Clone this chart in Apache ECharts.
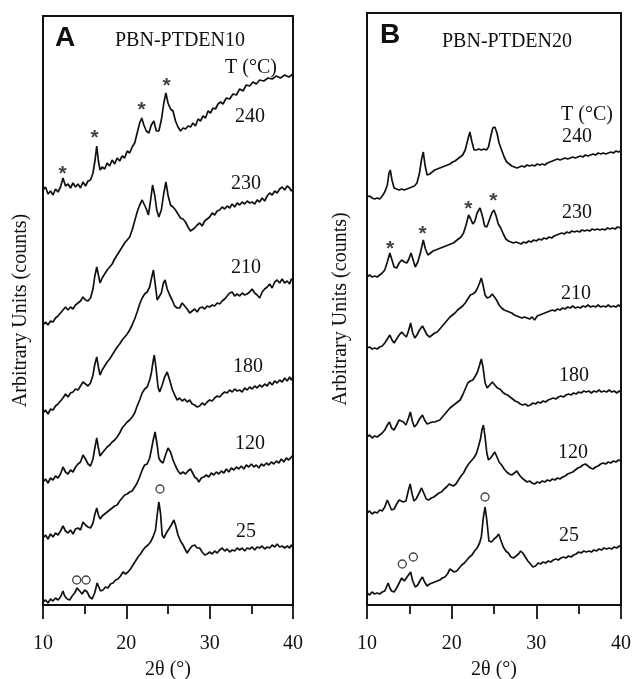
<!DOCTYPE html>
<html>
<head>
<meta charset="utf-8">
<script src="https://cdn.jsdelivr.net/npm/echarts@6/dist/echarts.min.js"></script>
<style>
html,body{margin:0;padding:0;background:#fff;}
#chart{width:634px;height:679px;}
</style>
</head>
<body>
<div id="chart"></div>
<script>
// ---------- Data (2θ in degrees, intensity in arbitrary offset units) ----------
const temperaturesA = ['25', '120', '180', '210', '230', '240'];
const temperaturesB = ['25', '120', '180', '210', '230', '240'];
const xTicks = [10, 20, 30, 40];

const A25 = [[10,3],[10.3,5],[10.6,2],[10.9,6],[11.2,4],[11.5,7],[11.8,5],[12.1,8],[12.4,14],[12.6,9],[12.9,6],[13.2,5],[13.5,9],[13.8,12],[14.1,17],[14.4,14],[14.7,11],[15.0,15],[15.3,13],[15.6,8],[15.9,6],[16.2,12],[16.5,22],[16.7,20],[16.9,14],[17.2,15],[17.5,18],[17.8,17],[18.1,21],[18.4,22],[18.7,25],[19.0,26],[19.3,29],[19.6,33],[19.9,31],[20.2,33],[20.5,36],[20.8,40],[21.1,44],[21.4,48],[21.7,51],[22.0,55],[22.3,58],[22.6,60],[22.9,63],[23.2,68],[23.5,75],[23.7,90],[23.9,103],[24.1,92],[24.3,70],[24.5,67],[24.8,72],[25.1,76],[25.4,80],[25.7,85],[25.9,80],[26.2,70],[26.5,64],[26.8,60],[27.1,55],[27.3,52],[27.6,56],[27.9,59],[28.2,60],[28.5,57],[28.8,57],[29.1,53],[29.4,50],[29.7,51],[30.0,53],[30.3,51],[30.6,54],[30.9,52],[31.2,55],[31.5,57],[31.8,54],[32.1,56],[32.4,53],[32.7,55],[33.0,54],[33.3,57],[33.6,55],[33.9,57],[34.2,54],[34.5,57],[34.8,56],[35.1,58],[35.4,55],[35.7,58],[36.0,57],[36.3,59],[36.6,56],[36.9,58],[37.2,57],[37.5,60],[37.8,58],[38.1,61],[38.4,58],[38.7,59],[39.0,57],[39.3,59],[39.6,57],[39.8,60],[40,58]];
const A120 = [[10,67],[10.3,70],[10.6,66],[10.9,71],[11.2,68],[11.5,72],[11.8,70],[12.1,74],[12.4,79],[12.7,74],[13.0,72],[13.3,75],[13.6,71],[13.9,76],[14.2,77],[14.5,75],[14.8,83],[15.1,80],[15.4,78],[15.7,77],[16.0,82],[16.2,90],[16.45,97],[16.65,90],[16.85,86],[17.1,89],[17.4,91],[17.7,93],[18.0,95],[18.3,97],[18.6,99],[18.9,100],[19.2,104],[19.5,107],[19.8,110],[20.1,111],[20.4,113],[20.7,114],[21.0,118],[21.3,122],[21.6,128],[21.9,135],[22.2,140],[22.5,141],[22.8,147],[23.0,155],[23.2,164],[23.45,173],[23.7,160],[23.9,147],[24.1,144],[24.4,142],[24.7,150],[25.0,157],[25.3,153],[25.6,145],[25.9,139],[26.2,134],[26.5,131],[26.8,133],[27.1,131],[27.4,134],[27.7,136],[27.9,133],[28.2,128],[28.5,126],[28.7,123],[29.0,127],[29.3,128],[29.6,130],[29.9,128],[30.2,132],[30.5,130],[30.8,133],[31.1,131],[31.4,134],[31.7,132],[32.0,136],[32.3,133],[32.6,137],[32.9,135],[33.2,138],[33.5,136],[33.8,139],[34.1,136],[34.4,140],[34.7,138],[35.0,141],[35.3,138],[35.6,140],[35.9,137],[36.2,141],[36.5,139],[36.8,142],[37.1,140],[37.4,143],[37.7,141],[38.0,144],[38.3,142],[38.6,146],[38.9,143],[39.2,147],[39.5,145],[39.8,148],[40,150]];
const A180 = [[10,123],[10.3,126],[10.6,122],[10.9,127],[11.2,125],[11.5,129],[11.8,127],[12.1,131],[12.4,138],[12.7,133],[13.0,131],[13.3,135],[13.6,133],[13.9,138],[14.2,141],[14.5,143],[14.8,150],[15.1,146],[15.4,141],[15.7,139],[16.0,146],[16.2,156],[16.45,167],[16.65,157],[16.85,149],[17.1,152],[17.4,155],[17.7,158],[18.0,160],[18.3,163],[18.6,165],[18.9,168],[19.2,172],[19.5,177],[19.8,180],[20.1,183],[20.4,185],[20.7,188],[21.0,192],[21.3,199],[21.6,205],[21.9,212],[22.2,216],[22.5,218],[22.8,225],[23.0,232],[23.2,243],[23.35,250],[23.55,238],[23.8,218],[24.0,213],[24.3,220],[24.6,228],[24.9,233],[25.2,225],[25.5,216],[25.8,210],[26.1,205],[26.4,207],[26.7,204],[27.0,206],[27.3,203],[27.6,205],[27.9,201],[28.2,200],[28.5,198],[28.8,199],[29.1,202],[29.4,200],[29.7,203],[30.0,205],[30.3,204],[30.6,207],[30.9,209],[31.2,208],[31.5,211],[31.8,213],[32.1,212],[32.4,215],[32.7,213],[33.0,216],[33.3,214],[33.6,215],[33.9,213],[34.2,217],[34.5,215],[34.8,218],[35.1,216],[35.4,219],[35.7,217],[36.0,220],[36.3,218],[36.6,221],[36.9,219],[37.2,223],[37.5,220],[37.8,224],[38.1,222],[38.4,225],[38.7,223],[39.0,227],[39.3,224],[39.6,228],[39.8,225],[40,228]];
const A210 = [[10,192],[10.3,195],[10.6,191],[10.9,196],[11.2,195],[11.5,199],[11.8,201],[12.1,204],[12.4,207],[12.7,211],[13.0,208],[13.3,212],[13.6,213],[13.9,216],[14.2,215],[14.5,219],[14.8,223],[15.1,221],[15.4,219],[15.7,222],[16.0,230],[16.2,240],[16.45,248],[16.65,238],[16.85,230],[17.1,235],[17.4,239],[17.7,243],[18.0,246],[18.3,250],[18.6,254],[18.9,258],[19.2,261],[19.5,265],[19.8,268],[20.1,271],[20.4,275],[20.7,280],[21.0,286],[21.3,293],[21.6,301],[21.9,307],[22.2,311],[22.5,313],[22.8,318],[23.0,326],[23.25,335],[23.45,322],[23.7,305],[23.9,303],[24.2,312],[24.45,322],[24.65,325],[24.9,316],[25.2,310],[25.5,305],[25.8,299],[26.1,297],[26.4,297],[26.7,302],[27.0,299],[27.3,296],[27.6,292],[27.9,294],[28.2,296],[28.5,293],[28.8,297],[29.1,298],[29.4,296],[29.7,299],[30.0,298],[30.3,300],[30.6,299],[30.9,302],[31.2,301],[31.5,304],[31.8,306],[32.1,309],[32.4,312],[32.7,313],[33.0,309],[33.3,311],[33.6,309],[33.9,312],[34.2,310],[34.5,311],[34.8,313],[35.1,316],[35.4,312],[35.7,310],[36.0,307],[36.3,313],[36.6,316],[36.9,318],[37.2,321],[37.5,317],[37.8,323],[38.1,325],[38.4,322],[38.7,326],[39.0,322],[39.3,324],[39.6,321],[39.8,326],[40,325]];
const A230 = [[10,280],[10.3,283],[10.6,280],[10.9,284],[11.2,283],[11.5,287],[11.8,289],[12.1,292],[12.4,295],[12.7,298],[13.0,295],[13.3,298],[13.6,296],[13.9,300],[14.2,302],[14.5,304],[14.8,308],[15.1,305],[15.4,304],[15.7,307],[16.0,316],[16.2,328],[16.45,338],[16.65,330],[16.85,322],[17.1,327],[17.4,331],[17.7,335],[18.0,338],[18.3,341],[18.6,346],[18.9,350],[19.2,354],[19.5,358],[19.8,362],[20.1,365],[20.4,368],[20.7,375],[21.0,384],[21.3,393],[21.6,400],[21.9,405],[22.1,404],[22.4,396],[22.65,390],[22.9,404],[23.15,420],[23.4,410],[23.65,395],[23.9,388],[24.2,395],[24.5,412],[24.75,423],[25.0,410],[25.3,400],[25.6,398],[25.9,395],[26.2,391],[26.5,387],[26.8,386],[27.1,383],[27.4,378],[27.7,374],[27.9,373],[28.2,377],[28.5,380],[28.8,382],[29.1,379],[29.4,384],[29.7,386],[30.0,388],[30.3,392],[30.6,390],[30.9,394],[31.2,395],[31.5,398],[31.8,396],[32.1,399],[32.4,397],[32.7,401],[33.0,398],[33.3,402],[33.6,400],[33.9,403],[34.2,401],[34.5,404],[34.8,402],[35.1,403],[35.4,401],[35.7,405],[36.0,403],[36.3,407],[36.6,404],[36.9,409],[37.2,412],[37.5,410],[37.8,414],[38.1,412],[38.4,416],[38.7,418],[39.0,415],[39.3,419],[39.6,417],[39.8,414],[40,416]];
const A240 = [[10,415],[10.3,418],[10.6,411],[10.9,414],[11.2,410],[11.5,416],[11.8,413],[12.1,418],[12.4,427],[12.7,419],[13.0,421],[13.3,417],[13.6,422],[13.9,418],[14.2,421],[14.5,417],[14.8,423],[15.1,419],[15.4,424],[15.7,425],[16.0,432],[16.25,445],[16.45,459],[16.65,444],[16.85,435],[17.1,438],[17.4,436],[17.7,442],[18.0,439],[18.3,445],[18.6,441],[18.9,447],[19.2,444],[19.5,449],[19.8,447],[20.1,454],[20.4,452],[20.7,458],[21.0,462],[21.3,472],[21.6,482],[21.85,487],[22.1,480],[22.4,474],[22.7,472],[23.0,480],[23.3,484],[23.6,474],[23.9,474],[24.2,485],[24.5,502],[24.75,512],[25.0,502],[25.3,496],[25.6,494],[25.9,484],[26.2,478],[26.5,474],[26.8,477],[27.1,476],[27.4,479],[27.7,478],[28.0,482],[28.3,479],[28.6,486],[28.9,484],[29.2,489],[29.5,487],[29.8,494],[30.1,492],[30.4,497],[30.7,496],[31.0,501],[31.3,503],[31.6,501],[32.0,507],[32.4,506],[32.8,511],[33.2,510],[33.6,516],[34.0,514],[34.4,520],[34.8,519],[35.2,523],[35.6,521],[36.0,525],[36.5,524],[37.0,527],[37.5,526],[38.0,529],[38.5,527],[39.0,530],[39.5,528],[40,531]];

const B25 = [[10,12],[10.3,10],[10.6,13],[10.9,11],[11.2,12],[11.5,11],[11.8,13],[12.1,14],[12.3,18],[12.5,22],[12.7,17],[12.9,14],[13.2,13],[13.5,17],[13.8,22],[14.1,27],[14.4,24],[14.6,25],[14.9,30],[15.15,33],[15.4,24],[15.7,18],[16.0,20],[16.3,25],[16.55,28],[16.8,23],[17.1,19],[17.4,21],[17.7,22],[18.0,23],[18.3,24],[18.6,25],[18.9,27],[19.2,28],[19.5,31],[19.8,36],[20.0,38],[20.3,33],[20.6,34],[20.9,37],[21.2,40],[21.5,42],[21.8,45],[22.1,48],[22.4,50],[22.7,54],[23.0,57],[23.3,62],[23.5,68],[23.75,88],[23.95,98],[24.15,85],[24.4,64],[24.7,63],[25.0,66],[25.3,68],[25.55,71],[25.8,65],[26.1,58],[26.4,54],[26.7,52],[27.0,48],[27.3,47],[27.6,49],[27.9,51],[28.15,54],[28.4,52],[28.7,48],[29.0,44],[29.3,41],[29.6,38],[29.9,39],[30.2,42],[30.5,41],[30.8,43],[31.1,42],[31.4,44],[31.7,43],[32.0,45],[32.3,46],[32.6,45],[32.9,47],[33.2,48],[33.5,47],[33.8,49],[34.1,48],[34.4,50],[34.7,51],[35.0,53],[35.3,52],[35.6,54],[35.9,53],[36.2,54],[36.5,53],[36.8,55],[37.1,54],[37.4,56],[37.7,55],[38.0,57],[38.3,56],[38.6,57],[38.9,56],[39.2,58],[39.5,57],[39.8,59],[40,58]];
const B120 = [[10,92],[10.3,94],[10.6,91],[10.9,93],[11.2,92],[11.5,95],[11.8,94],[12.1,98],[12.4,105],[12.6,101],[12.9,95],[13.2,96],[13.5,101],[13.8,105],[14.0,107],[14.3,103],[14.6,104],[14.9,115],[15.1,121],[15.3,112],[15.55,104],[15.8,106],[16.1,111],[16.45,117],[16.7,112],[17.0,106],[17.3,105],[17.6,107],[17.9,108],[18.2,110],[18.5,112],[18.8,113],[19.1,116],[19.4,118],[19.7,121],[19.9,123],[20.2,119],[20.5,121],[20.8,125],[21.1,129],[21.4,132],[21.7,137],[22.0,141],[22.3,144],[22.6,147],[22.9,151],[23.15,158],[23.4,166],[23.6,176],[23.75,180],[23.95,168],[24.15,152],[24.35,145],[24.6,147],[24.85,150],[25.1,153],[25.35,148],[25.6,143],[25.9,140],[26.2,136],[26.5,133],[26.8,131],[27.1,130],[27.4,132],[27.7,134],[28.0,130],[28.3,127],[28.6,125],[28.9,123],[29.2,124],[29.5,122],[29.8,121],[30.1,123],[30.4,122],[30.7,124],[31.0,123],[31.3,125],[31.6,124],[31.9,126],[32.2,125],[32.5,127],[32.8,126],[33.1,128],[33.4,129],[33.7,131],[34.0,132],[34.3,133],[34.6,135],[34.9,137],[35.2,138],[35.5,140],[35.8,141],[36.1,139],[36.4,137],[36.7,136],[37.0,138],[37.3,139],[37.6,141],[37.9,142],[38.2,141],[38.5,143],[38.8,142],[39.1,144],[39.4,143],[39.7,145],[40,144]];
const B180 = [[10,168],[10.3,170],[10.6,167],[10.9,169],[11.2,168],[11.5,170],[11.8,172],[12.1,175],[12.4,180],[12.65,183],[12.9,177],[13.2,175],[13.5,180],[13.8,185],[14.0,187],[14.3,183],[14.6,180],[14.9,187],[15.12,193],[15.35,184],[15.6,178],[15.9,181],[16.2,186],[16.55,190],[16.8,185],[17.1,181],[17.4,182],[17.7,183],[18.0,183],[18.3,184],[18.6,185],[18.9,188],[19.2,191],[19.5,194],[19.8,197],[20.1,199],[20.4,201],[20.7,203],[21.0,205],[21.3,210],[21.6,216],[21.9,222],[22.2,224],[22.5,225],[22.8,229],[23.05,233],[23.3,240],[23.5,246],[23.7,238],[23.95,222],[24.2,217],[24.5,220],[24.8,223],[25.1,220],[25.4,217],[25.7,216],[26.0,213],[26.3,211],[26.6,210],[26.9,208],[27.2,206],[27.5,204],[27.8,203],[28.1,201],[28.4,200],[28.7,201],[29.0,199],[29.3,200],[29.6,202],[29.9,201],[30.2,203],[30.5,202],[30.8,204],[31.1,203],[31.4,205],[31.7,206],[32.0,207],[32.3,206],[32.6,208],[32.9,209],[33.2,208],[33.5,210],[33.8,211],[34.1,210],[34.4,212],[34.7,211],[35.0,213],[35.3,212],[35.6,214],[35.9,213],[36.2,214],[36.5,212],[36.8,214],[37.1,213],[37.4,215],[37.7,213],[38.0,214],[38.3,213],[38.6,215],[38.9,213],[39.2,214],[39.5,212],[39.8,214],[40,213]];
const B210 = [[10,257],[10.3,258],[10.6,256],[10.9,257],[11.2,256],[11.5,258],[11.8,259],[12.1,262],[12.4,266],[12.7,270],[12.95,265],[13.2,262],[13.5,266],[13.8,270],[14.1,273],[14.4,270],[14.65,268],[14.9,274],[15.15,282],[15.4,272],[15.65,267],[15.9,270],[16.2,275],[16.55,279],[16.8,275],[17.1,270],[17.4,268],[17.7,270],[18.0,272],[18.3,273],[18.6,276],[18.9,279],[19.2,282],[19.5,285],[19.8,288],[20.1,290],[20.4,292],[20.7,295],[21.0,297],[21.3,299],[21.6,302],[21.9,306],[22.2,310],[22.5,311],[22.8,313],[23.0,316],[23.25,321],[23.5,327],[23.7,320],[23.95,310],[24.2,307],[24.5,308],[24.8,311],[25.0,310],[25.3,305],[25.6,300],[25.9,297],[26.2,295],[26.5,294],[26.8,293],[27.1,292],[27.4,290],[27.7,289],[28.0,288],[28.3,287],[28.6,288],[28.9,287],[29.2,286],[29.5,288],[29.8,285],[30.1,289],[30.4,290],[30.7,291],[31.0,292],[31.3,293],[31.6,294],[31.9,295],[32.2,294],[32.5,296],[32.8,295],[33.1,297],[33.4,296],[33.7,298],[34.0,297],[34.3,299],[34.6,297],[34.9,298],[35.2,297],[35.5,299],[35.8,298],[36.1,300],[36.4,298],[36.7,299],[37.0,298],[37.3,300],[37.6,298],[37.9,299],[38.2,298],[38.5,300],[38.8,298],[39.1,299],[39.4,298],[39.7,300],[40,298]];
const B230 = [[10,328],[10.3,330],[10.6,328],[10.9,329],[11.2,328],[11.5,330],[11.8,332],[12.1,335],[12.4,343],[12.7,352],[12.95,345],[13.2,338],[13.5,337],[13.8,342],[14.1,345],[14.4,343],[14.7,342],[14.95,346],[15.2,352],[15.45,345],[15.7,338],[16.0,343],[16.3,352],[16.65,365],[16.9,356],[17.2,350],[17.5,352],[17.8,354],[18.1,355],[18.4,356],[18.7,357],[19.0,358],[19.3,359],[19.6,360],[19.9,361],[20.2,362],[20.5,364],[20.8,366],[21.1,368],[21.4,372],[21.7,380],[22.0,390],[22.25,386],[22.5,381],[22.75,384],[23.0,392],[23.35,397],[23.6,390],[23.9,379],[24.15,378],[24.45,385],[24.75,392],[25.0,395],[25.25,389],[25.5,381],[25.8,377],[26.1,371],[26.4,366],[26.7,364],[27.0,363],[27.3,362],[27.6,363],[27.9,362],[28.2,361],[28.5,363],[28.8,362],[29.1,364],[29.4,363],[29.7,365],[30.0,364],[30.3,366],[30.6,365],[30.9,367],[31.2,366],[31.5,368],[31.8,367],[32.1,369],[32.4,370],[32.7,371],[33.0,372],[33.3,371],[33.6,373],[33.9,372],[34.2,374],[34.5,373],[34.8,374],[35.1,373],[35.4,375],[35.7,374],[36.0,375],[36.3,374],[36.6,376],[36.9,375],[37.2,376],[37.5,375],[37.8,376],[38.1,375],[38.4,377],[38.7,376],[39.0,377],[39.3,376],[39.6,378],[40,377]];
const B240 = [[10,408],[10.3,409],[10.6,407],[10.9,406],[11.2,407],[11.5,406],[11.8,409],[12.1,413],[12.4,420],[12.6,432],[12.75,435],[12.95,425],[13.2,417],[13.5,416],[13.8,415],[14.1,416],[14.4,415],[14.7,416],[15.0,417],[15.3,418],[15.6,419],[15.9,422],[16.2,432],[16.45,446],[16.65,453],[16.85,440],[17.1,430],[17.4,431],[17.7,433],[18.0,435],[18.3,436],[18.6,437],[18.9,438],[19.2,439],[19.5,440],[19.8,441],[20.1,443],[20.4,444],[20.7,446],[21.0,448],[21.3,450],[21.6,455],[21.9,465],[22.15,473],[22.4,463],[22.65,455],[22.9,455],[23.2,456],[23.5,455],[23.8,456],[24.1,455],[24.35,458],[24.6,468],[24.85,477],[25.1,478],[25.35,472],[25.6,462],[25.9,455],[26.2,448],[26.5,443],[26.8,441],[27.1,439],[27.4,438],[27.7,437],[28.0,438],[28.3,439],[28.6,438],[28.9,440],[29.2,439],[29.5,440],[29.8,439],[30.1,441],[30.4,440],[30.7,441],[31.0,440],[31.3,442],[31.6,443],[31.9,444],[32.2,445],[32.5,446],[32.8,445],[33.1,446],[33.4,447],[33.7,446],[34.0,447],[34.3,448],[34.6,447],[34.9,448],[35.2,449],[35.5,448],[35.8,450],[36.1,449],[36.4,450],[36.7,451],[37.0,450],[37.3,452],[37.6,451],[37.9,452],[38.2,451],[38.5,452],[38.8,453],[39.1,452],[39.4,454],[39.7,453],[40,454]];

const curvesA = [A25, A120, A180, A210, A230, A240];
const curvesB = [B25, B120, B180, B210, B230, B240];

// peak markers (* = new crystal form, o = room-temperature form)
const starsA = [[12.36,437],[16.2,473],[21.84,501],[24.84,525]];
const circlesA = [[14.04,25],[15.16,25],[24.04,116]];
const starsB = [[12.72,362],[16.58,377],[21.97,402],[24.92,410]];
const circlesB = [[14.17,41],[15.47,48],[23.94,108]];

const titleA = 'PBN-PTDEN10';
const titleB = 'PBN-PTDEN20';
const yName = 'Arbitrary Units (counts)';
const xName = '2θ (°)';

// ---------- Chart ----------
const SERIF = '"Liberation Serif","Times New Roman",serif';
const SANS = '"Liberation Sans",Arial,sans-serif';
const INK = '#111';

const chart = echarts.init(document.getElementById('chart'), null, {renderer: 'canvas'});

function xAxisFor(idx) {
  return {
    gridIndex: idx, type: 'value', min: 10, max: 40, interval: 10,
    name: xName, nameLocation: 'middle', nameGap: 55,
    nameTextStyle: {fontFamily: SERIF, fontSize: 20, color: INK},
    axisLine: {show: true, lineStyle: {color: INK, width: 1.8}},
    axisTick: {show: true, inside: false, length: 14, lineStyle: {color: INK, width: 1.8}},
    minorTick: {show: true, splitNumber: 2, length: 9, lineStyle: {color: INK, width: 1.8}},
    axisLabel: {fontFamily: SERIF, fontSize: 20, color: INK, margin: 29,
      formatter: v => xTicks.includes(v) ? String(v) : ''},
    splitLine: {show: false}
  };
}
function yAxisFor(idx, max, gap) {
  return {
    gridIndex: idx, type: 'value', min: 0, max: max,
    name: yName, nameLocation: 'middle', nameGap: gap,
    nameTextStyle: {fontFamily: SERIF, fontSize: 20, color: INK},
    axisLine: {show: true, lineStyle: {color: INK, width: 1.8}},
    axisTick: {show: false}, axisLabel: {show: false}, splitLine: {show: false}
  };
}

const series = [];
function addPanel(curves, temps, stars, circles, idx) {
  curves.forEach((c, i) => {
    series.push({
      name: temps[i], type: 'line', xAxisIndex: idx, yAxisIndex: idx,
      data: c, showSymbol: false, smooth: false, animation: false,
      lineStyle: {color: INK, width: 1.7}
    });
  });
  series.push({
    type: 'scatter', xAxisIndex: idx, yAxisIndex: idx, data: stars, animation: false,
    symbolSize: 1, itemStyle: {color: 'rgba(0,0,0,0)'},
    label: {show: true, position: 'inside', formatter: '*', offset: [0, 6],
      fontFamily: SANS, fontSize: 21, fontWeight: 'bold', color: INK}
  });
  series.push({
    type: 'scatter', xAxisIndex: idx, yAxisIndex: idx, data: circles, animation: false,
    symbol: 'circle', symbolSize: 8,
    itemStyle: {color: '#fff', borderColor: INK, borderWidth: 1.3}
  });
}
addPanel(curvesA, temperaturesA, starsA, circlesA, 0);
addPanel(curvesB, temperaturesB, starsB, circlesB, 1);

function txt(s, x, y, opts) {
  return Object.assign({type: 'text', x: x, y: y, z: 100,
    style: Object.assign({text: s, fontFamily: SERIF, fontSize: 20, fill: INK,
      textAlign: 'center', textVerticalAlign: 'middle'}, opts || {})});
}

const labelPosA = [[246,532],[250,444],[248,367],[246,268],[246,184],[250,117]];
const labelPosB = [[569,536],[573,453],[574,376],[576,294],[577,213],[577,137]];

const graphics = [
  txt('A', 65, 38, {fontFamily: SANS, fontSize: 28, fontWeight: 'bold'}),
  txt(titleA, 180, 41),
  txt('T (°C)', 251, 68),
  txt('B', 390, 35, {fontFamily: SANS, fontSize: 28, fontWeight: 'bold'}),
  txt(titleB, 507, 42),
  txt('T (°C)', 587, 115)
];
temperaturesA.forEach((t, i) => graphics.push(txt(t, labelPosA[i][0], labelPosA[i][1])));
temperaturesB.forEach((t, i) => graphics.push(txt(t, labelPosB[i][0], labelPosB[i][1])));

chart.setOption({
  animation: false,
  backgroundColor: '#fff',
  grid: [
    {left: 43, top: 16, width: 250, height: 589, show: true, borderColor: INK, borderWidth: 2,
     backgroundColor: 'transparent', containLabel: false, outerBoundsMode: 'none'},
    {left: 367, top: 13, width: 254, height: 592, show: true, borderColor: INK, borderWidth: 2,
     backgroundColor: 'transparent', containLabel: false, outerBoundsMode: 'none'}
  ],
  xAxis: [xAxisFor(0), xAxisFor(1)],
  yAxis: [yAxisFor(0, 589, 12), yAxisFor(1, 592, 16)],
  series: series,
  graphic: graphics
});
</script>
</body>
</html>
